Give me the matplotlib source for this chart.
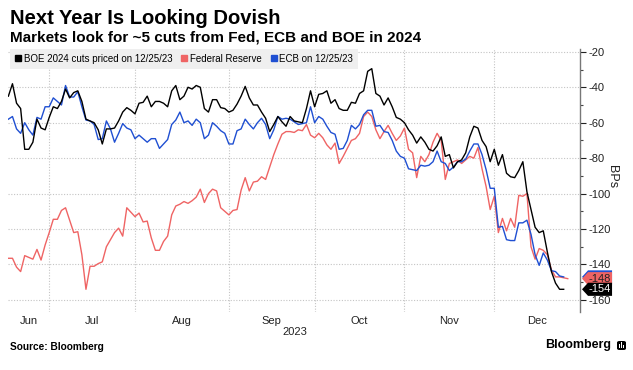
import numpy as np
import pandas as pd
import matplotlib
matplotlib.use('Agg')
import matplotlib.pyplot as plt
from matplotlib.lines import Line2D
from matplotlib.patches import Polygon, FancyBboxPatch

plt.rcParams['font.family'] = ['Liberation Sans', 'DejaVu Sans']
plt.rcParams['axes.unicode_minus'] = False

nan = np.nan

# BOE 2024 cuts priced, bps (weekday series from Jun 19 2023)
boe = [
    -45, -38, -49, -52, -75, -75, -71, -58, -63, -64,
    -57, -51, -52, -48, -41, -46, -43, -42, -48, -58,
    -59, -60, -64, -72, -63.5, -63.5, -63, -59, -54, -51.5,
    -53, -55, -49, -48.5, -45, -51, -48, -48, -49, -51,
    -42, -39, -47, -45, -40, -41, -39, -40, -52, -54,
    -47, -47, -51.5, -52, -54, -53, -49.5, -45, -39.5, -46,
    -50, -50, -54, -57.5, -65, -61, -56.5, -59.5, -62, -56.5,
    -59, -59.5, -60, -52, -42, -51, -44, -43.5, -42, -49,
    -47, -52, -53, -53, -48.5, -49, -43.5, -42, -31, -29.5,
    -43.5, -45, -50, -46, -51, -57, -58, -60, -64, -67,
    -71.5, -68, -71, -75, -76, -73, -68, -79, -78, -85.5,
    -82, -81, -77, -68, -62, -63, -70, -73.5, -82, -75,
    -84, -78, -88.5, -90.5, -91, -87, -82, -99, -109, -119,
    -122, -121, -133, -144, -150.5, -154, -154, nan]

# Federal Reserve
fed = [
    -136.5, -136.5, -141.5, -144, -135, -136, -137, -131.5, -137.5, -129,
    -122, -114.5, -114.5, -109.5, -108, -115, -122, -121.5, -134.5, -154,
    -141, -141, -139.5, -138.5, -130, -126, -122, -119.5, -124, -108,
    -110.5, -113, -111, -116, -115.5, -125, -132, -132, -127, -124,
    -112, -107, -106, -104.5, -105.5, -104, -102, -97.5, -105, -100,
    -97.5, -98.5, -108, -110, -112, -109.5, -109, -98, -91, -98.5,
    -93.5, -93, -90.5, -92, -85, -78, -72, -66.5, -65, -65,
    -65.5, -64, -64.5, -61, -67, -68.5, -66, -68.5, -72.5, -75,
    -71.5, -83, -79, -74.5, -70, -69, -66, -56.5, -54, -56.5,
    -64, -69, -65, -61.5, -66, -70, -67.5, -63, -75, -77,
    -91, -79, -82, -78, -71, -66, -70, -92, -83, -82,
    -81, -83, -81, -79, -80, -74, -86, -96, -109, -101.5,
    -122, -114, -121, -114, -119, -101, -101.5, -100, -130, -137,
    -131, -132, -134.5, -143, -147, -147, -147.5, -148]

# ECB
ecb = [
    -58, -56.5, -63.5, -66, -60, -64, -67, -57, -58, -51,
    -51, -46, -48, -50, -39, -45.5, -45.5, -42.5, -51, -58.5,
    -59, -61, -69.5, -69, -59, -63.5, -71, -66, -60.5, -63,
    -64, -69, -67, -69, -71, -69, -69, -74.5, -72, -69.5,
    -61, -58.5, -54, -60, -59, -61.5, -58, -60, -69, -67,
    -60, -62, -64.5, -66, -72, -72, -64.5, -63.5, -58, -61,
    -63.5, -60, -57.5, -61, -69, -64, -56.5, -58, -57.5, -58,
    -59.5, -61, -60.5, -60, -51, -60, -56.5, -58, -62, -65.5,
    -66.5, -75, -74.5, -70, -61.5, -63.5, -61, -55.5, -53, -53,
    -62, -61.5, -65, -65.5, -70, -76, -79, -80, -86, -86.5,
    -87, -84, -84.5, -84, -82, -76, -82, -83, -87, -85,
    -82, -82, -80.5, -76, -72, -72, -78, -86.5, -97, -97,
    -119, -118.5, -126, -126.5, -126.5, -116.5, -116.5, -115, -123, -134.5,
    -140.5, -133.5, -137.5, -143.5, -144, -146.5, -147, nan]

labels = ['BOE 2024 cuts priced on 12/25/23', 'Federal Reserve', 'ECB on 12/25/23']
yticks = [-160, -140, -120, -100, -80, -60, -40, -20]

RED = '#ef6464'
BLUE = '#1f4fd2'
BLACK = '#000000'

dates = pd.bdate_range('2023-06-19', periods=len(fed))
x = np.arange(len(dates))

fig = plt.figure(figsize=(6.33, 3.70), dpi=100)
ax = fig.add_axes([0.0126, 0.1568, 0.9037, 0.7108])

ax.plot(x, fed, color=RED, lw=1.0)
ax.plot(x, ecb, color=BLUE, lw=1.0)
ax.plot(x, boe, color=BLACK, lw=1.0)

xmin, xmax = -0.1, 140
ax.set_xlim(xmin, xmax)
ax.set_ylim(-166.8, -18.4)

# month boundaries on a weekday axis
starts = [i for i in range(1, len(dates)) if dates[i].month != dates[i - 1].month]
bounds = [xmin] + starts + [xmax]
mids = [(bounds[k] + bounds[k + 1]) / 2 for k in range(len(bounds) - 1)]
names = [dates[0].strftime('%b')] + [dates[i].strftime('%b') for i in starts]

ax.set_xticks(starts)
ax.set_xticklabels([])
ax.set_xticks(mids, minor=True)
ax.set_xticklabels(names, minor=True, fontsize=8)
ax.tick_params(axis='x', which='both', length=0, pad=3, colors='#222222')

ax.yaxis.tick_right()
ax.set_yticks(yticks)
ax.set_yticks(np.arange(-160, -15, 10), minor=True)
ax.tick_params(axis='y', which='major', length=4, width=0.8, pad=2,
               labelsize=8, colors='#222222')
ax.tick_params(axis='y', which='minor', length=2.5, width=0.8, colors='#444444')

ax.grid(axis='x', which='major', color='#c4c4c4', linestyle=(0, (1, 1.5)), lw=0.8)
ax.grid(axis='y', which='major', color='#c4c4c4', linestyle=(0, (1, 1.5)), lw=0.8)
ax.set_axisbelow(True)

for s in ['top', 'left', 'bottom']:
    ax.spines[s].set_visible(False)
ax.spines['right'].set_color('#777777')
ax.spines['right'].set_linewidth(1.0)

# legend
handles = [Line2D([0], [0], marker='s', color=c, linestyle='none', markersize=5)
           for c in [BLACK, RED, BLUE]]
leg = ax.legend(handles, labels, loc='upper left', bbox_to_anchor=(0.0035, 1.0),
                ncol=3, frameon=True, facecolor='#efefef', edgecolor='none',
                fancybox=False, framealpha=1, fontsize=7, handlelength=0.7,
                handletextpad=0.2, columnspacing=0.9, borderpad=0.5,
                borderaxespad=0)

# last value tags on the right axis
tr = ax.get_yaxis_transform()
def tag(val, face, txt_color, text=None):
    h = 3.7
    pts = [(1.0035, val), (1.014, val + h), (1.056, val + h), (1.056, val - h), (1.014, val - h)]
    ax.add_patch(Polygon(pts, closed=True, transform=tr, clip_on=False,
                         facecolor=face, edgecolor='none', zorder=5))
    if text:
        ax.text(1.035, val, text, transform=tr, ha='center', va='center',
                fontsize=8, color=txt_color, clip_on=False, zorder=6)

tag(ecb[-2], BLUE, 'white')
tag(fed[-1], RED, '#222222', '%d' % round(fed[-1]))
tag(boe[-2], BLACK, 'white', '%d' % round(boe[-2]))

fig.text(612 / 633, 1 - 177 / 370, 'BPs', rotation=270, ha='center', va='center',
         fontsize=9, color='#222222')

fig.text(295 / 633, 1 - 332 / 370, '2023', ha='center', va='center', fontsize=8,
         color='#222222')

fig.text(10 / 633, 1 - 18 / 370, 'Next Year Is Looking Dovish', fontsize=14.5,
         fontweight='bold', va='center', ha='left')
fig.text(10 / 633, 1 - 37 / 370, 'Markets look for ~5 cuts from Fed, ECB and BOE in 2024',
         fontsize=11, fontweight='bold', va='center', ha='left')
fig.text(10 / 633, 1 - 347 / 370, 'Source: Bloomberg', fontsize=7.3, fontweight='bold',
         va='center', ha='left')
fig.text(611 / 633, 1 - 345 / 370, 'Bloomberg', fontsize=9, fontweight='bold',
         va='center', ha='right')

# small logo square
logo = FancyBboxPatch((617 / 633, 1 - 350 / 370), 9 / 633, 9 / 370,
                      boxstyle='round,pad=0,rounding_size=0.004',
                      transform=fig.transFigure, facecolor='black', edgecolor='none')
fig.patches.append(logo)
for k, hgt in enumerate([4, 6, 3]):
    fig.patches.append(plt.Rectangle(((619 + 2 * k) / 633, 1 - 348 / 370), 1 / 633, hgt / 370,
                                     transform=fig.transFigure, facecolor='white',
                                     edgecolor='none'))

fig.savefig('out.png', dpi=100)
